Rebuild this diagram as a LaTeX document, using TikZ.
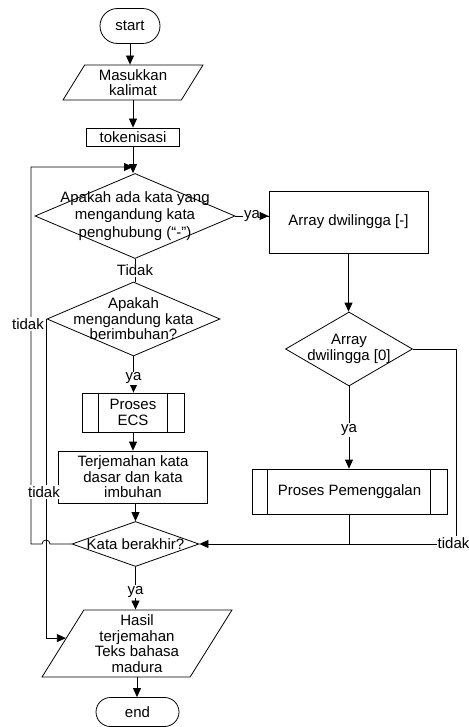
\documentclass[tikz,border=0pt]{standalone}
\usepackage{fontspec}
\setmainfont{Liberation Sans}
\usetikzlibrary{shapes.geometric,shapes.misc,arrows.meta,calc}
\begin{document}
\begin{tikzpicture}[x=1pt,y=-1pt,line width=0.8pt,
  every node/.style={font=\fontsize{15}{15.5}\selectfont,align=center,inner sep=0pt},
  term/.style={draw,rounded rectangle},
  io/.style={draw,trapezium,trapezium left angle=60,trapezium right angle=120,trapezium stretches=true},
  proc/.style={draw,rectangle},
  dec/.style={draw,diamond},
  lbl/.style={fill=white,inner sep=1pt},
  arr/.style={-{Triangle[length=9pt,width=8pt]}}]
\useasboundingbox (0,0) rectangle (468,727);

% left column
\node[term,minimum width=60pt,minimum height=35pt] (start) at (130,26) {start};
\node[io,minimum width=140pt,minimum height=35pt] (in) at (133,82.5) {Masukkan\\kalimat};
\node[proc,minimum width=93pt,minimum height=18pt] (tok) at (133,137) {tokenisasi};
\node[dec,minimum width=200pt,minimum height=85pt] (d1) at (135,216) {};
\node[font=\fontsize{15}{17.5}\selectfont] (d1t) at (d1) {Apakah ada kata yang\\mengandung kata\\penghubung (“-”)};
\node[dec,minimum width=173pt,minimum height=74pt] (d3) at (133.5,319) {};
\node (d3t) at (d3) {Apakah\\mengandung kata\\berimbuhan?};
\node[proc,minimum width=102pt,minimum height=39pt] (ecs) at (133,412.5) {Proses\\ECS};
\draw ([xshift=17pt]ecs.north west) -- ([xshift=17pt]ecs.south west)
      ([xshift=-17pt]ecs.north east) -- ([xshift=-17pt]ecs.south east);
\node[proc,minimum width=149pt,minimum height=52pt] (ter) at (133,477) {Terjemahan kata\\dasar dan kata\\imbuhan};
\node[dec,minimum width=127pt,minimum height=45pt] (kata) at (135.5,544) {};
\node (katat) at (kata) {Kata berakhir?};
\node[io,minimum width=190pt,minimum height=67pt] (hasil) at (137,643.5) {Hasil\\terjemahan\\Teks bahasa\\madura};
\node[term,minimum width=83pt,minimum height=29pt] (end) at (137.5,712) {end};

% right column
\node[proc,minimum width=159pt,minimum height=62pt] (a1) at (348.5,222) {Array dwilingga [-]};
\node[dec,minimum width=127pt,minimum height=74pt] (d2) at (349,349) {};
\node (d2t) at (d2) {Array\\dwilingga [0]};
\node[proc,minimum width=195pt,minimum height=45pt] (p2) at (349.5,491.5) {Proses Pemenggalan};
\draw ([xshift=16pt]p2.north west) -- ([xshift=16pt]p2.south west)
      ([xshift=-17pt]p2.north east) -- ([xshift=-17pt]p2.south east);

% helper coordinates
\coordinate (j) at (133,167);
\coordinate (hl) at ($(hasil.bottom left corner)!0.58!(hasil.top left corner)$);
\coordinate (rc) at (456,544);
\coordinate (lc) at (31,544);

% connectors
\draw[arr] (start.south) -- (start.south |- in.north);
\draw[arr] (in.south) -- (in.south |- tok.north);
\draw[arr] (tok.south) -- (tok.south |- d1.north);
\draw (d1.east) -- node[lbl,pos=0.5] {ya} (d1.east -| a1.west);
\draw[arr] ($(d1.east)!0.8!(d1.east -| a1.west)$) -- (d1.east -| a1.west);
\draw (d1.south) -- node[lbl] {Tidak} (d1.south |- d3.north);
\draw[arr] (d3.south) -- node[lbl,pos=0.6] {ya} (d3.south |- ecs.north);
\draw[arr] (ecs.south) -- (ecs.south |- ter.north);
\draw[arr] (ter.south) -- (ter.south -| kata.north) -- (kata.north);
\draw[arr] (kata.south) -- node[lbl,pos=0.58] {ya} (kata.south |- hasil.north);
\draw[arr] (hasil.south) -- (hasil.south |- end.north);

\draw[arr] (a1.south) -- (a1.south |- d2.north);
\draw[arr] (d2.south) -- node[lbl,pos=0.53] {ya} (d2.south |- p2.north);
\draw (p2.south) -- (p2.south |- rc);
\draw[arr] (d2.east) -- (d2.east -| rc) -- (rc) -- (kata.east);

% loop back with hop
\draw[arr] (kata.west) -- (50,544) arc[start angle=0,end angle=180,radius=4pt] -- (lc) -- (lc |- j) -- (j);
% berimbuhan: tidak
\draw[arr] (d3.west) -- (d3.west |- hl) -- (hl);

% labels over lines
\node[lbl] (t1) at (28,324) {tidak};
\node[lbl] (t2) at (44,492) {tidak};
\node[lbl] (t3) at (453.5,543) {tidak};
\end{tikzpicture}
\end{document}
